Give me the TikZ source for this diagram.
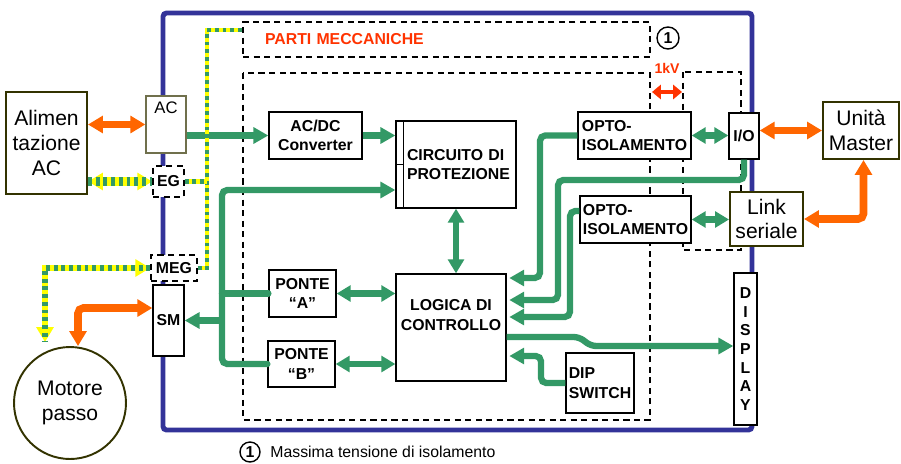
\documentclass[tikz,border=0pt]{standalone}
\usepackage{fontspec}
\setmainfont{Liberation Sans}
\definecolor{frameblue}{RGB}{51,51,153}
\definecolor{busgreen}{RGB}{51,153,102}
\definecolor{linkorange}{RGB}{255,102,0}
\definecolor{kvred}{RGB}{255,51,0}
\definecolor{extolive}{RGB}{51,51,0}
\definecolor{earthyellow}{RGB}{255,255,0}
\usetikzlibrary{arrows.meta,positioning,backgrounds,calc}
\tikzset{
  blk/.style={rectangle,draw=black,fill=white,line width=0.75pt,
              align=center,inner sep=1pt,font=\fontsize{9}{11}\selectfont\bfseries},
  ext/.style={rectangle,draw=extolive,fill=white,line width=1.1pt,
              align=center,inner sep=1pt,font=\fontsize{12}{14}\selectfont},
  dashbox/.style={rectangle,draw=black,fill=white,line width=0.8pt,
                  dash pattern=on 3.5pt off 2.5pt,align=center,inner sep=1pt,
                  font=\fontsize{9}{11}\selectfont\bfseries},
  dashline/.style={draw=black,line width=0.8pt,dash pattern=on 3.5pt off 2.5pt},
  dtips/.style={{Triangle[length=8.5pt,width=9.5pt]}-{Triangle[length=8.5pt,width=9.5pt]}},
  gline/.style={draw=busgreen,line width=3.6pt,rounded corners=3pt},
  garrow/.style={gline,-{Triangle[length=8.5pt,width=9pt]}},
  gdarrow/.style={gline,{Triangle[length=8pt,width=9pt]}-{Triangle[length=8pt,width=9pt]}},
  oarrow/.style={draw=linkorange,line width=4.3pt,rounded corners=3pt,dtips},
  earth/.style={draw=earthyellow,line width=#1,
                postaction={draw=busgreen,arrows=-,dash pattern=on 2.2pt off 2.2pt}},
  earth/.default=2.8pt,
  numcirc/.style={circle,draw=black,line width=0.8pt,minimum size=0.44cm,
                  inner sep=0pt,font=\fontsize{9}{9}\selectfont\bfseries},
}
\begin{document}
\begin{tikzpicture}[x=0.02cm,y=-0.02cm]
  \useasboundingbox (0,0) rectangle (901,463);

  % external units
  \node[ext,minimum width=1.62cm,minimum height=2.04cm] (alim) at (46.5,143) {Alimen\\tazione\\AC};
  \node[circle,draw=extolive,line width=1.1pt,minimum size=2.24cm,align=center,
        font=\fontsize{12}{14}\selectfont] (motor) at (70,403) {Motore\\passo};
  \node[ext,minimum width=1.52cm,minimum height=1.14cm] (master) at (861,130.5) {Unità\\Master};
  \node[ext,minimum width=1.46cm,minimum height=1.08cm] (link) at (766.5,219) {Link\\seriale};

  % connectors on the case
  \node[blk,draw=extolive!70,minimum width=0.8cm,minimum height=1.14cm,
        label={[anchor=north,font=\fontsize{9.5}{11}\selectfont]north:AC}] (ac) at (166,124.5) {};
  \node[dashbox,minimum width=0.62cm,minimum height=0.62cm] (eg) at (168.5,181.5) {EG};
  \node[dashbox,minimum width=0.92cm,minimum height=0.52cm] (meg) at (174,268) {MEG};
  \node[blk,minimum width=0.62cm,minimum height=1.42cm] (sm) at (168.5,320.5) {SM};

  % internal blocks
  \node[blk,minimum width=1.86cm,minimum height=0.94cm] (acdc) at (315.5,135.5) {AC/DC\\Converter};
  \node[blk,minimum width=2.4cm,minimum height=1.74cm,text width=1.96cm,align=left] (circ) at (456,164.5) {CIRCUITO DI\\PROTEZIONE};
  \draw[line width=0.75pt] ([xshift=0.16cm]circ.north west) -- ([xshift=0.16cm]circ.south west);
  \draw[line width=0.75pt] (circ.west) -- ([xshift=0.16cm]circ.west);
  \node[blk,minimum width=1.34cm,minimum height=0.94cm] (pontea) at (302.5,293.5) {PONTE\\“A”};
  \node[blk,minimum width=1.34cm,minimum height=0.92cm] (ponteb) at (301.5,364) {PONTE\\“B”};
  \node[blk,minimum width=2.2cm,minimum height=2.14cm] (logica) at (451,327.5) {LOGICA DI\\CONTROLLO\\\strut};
  \node[blk,minimum width=2.26cm,minimum height=0.94cm,align=left] (opto1) at (634.5,135.5) {OPTO-\\ISOLAMENTO};
  \node[blk,minimum width=2.22cm,minimum height=0.94cm,align=left] (opto2) at (635.5,219.5) {OPTO-\\ISOLAMENTO};
  \node[blk,minimum width=0.6cm,minimum height=0.92cm] (io) at (744,136) {I/O};
  \node[blk,minimum width=1.36cm,minimum height=1.2cm,align=left] (dip) at (600,383) {DIP\\SWITCH};
  \node[blk,minimum width=0.46cm,minimum height=3.04cm,
        font=\fontsize{9}{10.6}\selectfont\bfseries] (display) at (745.5,349) {D\\I\\S\\P\\L\\A\\Y};

  \node[dashbox,minimum width=8.14cm,minimum height=0.7cm,text width=7.26cm,
        inner xsep=0.44cm,align=left,text=kvred] (parti) at (446.5,39.5) {PARTI MECCANICHE};

  % isolation
  \node[numcirc] (n1) at (668,38) {1};
  \coordinate (kvl) at (652,92);
  \coordinate (kvr) at (682,92);
  \draw[kvred,line width=2.8pt,{Triangle[length=5pt,width=8pt]}-{Triangle[length=5pt,width=8pt]}] (kvl) -- (kvr);
  \node[font=\fontsize{8}{8}\selectfont\bfseries,text=kvred] (kv) at (667,68) {1kV};

  \node[numcirc,minimum size=0.4cm] (n2) at (250,452) {1};
  \node[font=\fontsize{9}{9}\selectfont,right=2pt of n2] (note) {Massima tensione di isolamento};

  \begin{scope}[on background layer]
    \draw[frameblue,line width=2.8pt,rounded corners=2pt] (163,13) rectangle (752,430);
    \draw[dashline] (243,73) rectangle (650,420);
    \draw[dashline] (683,72) rectangle (741,250);
  \end{scope}

  % green links
  \draw[garrow] (ac.east |- acdc.west) -- (acdc.west);
  \draw[garrow] (acdc.east) -- (acdc.east -| circ.west);
  \coordinate (bus) at (222,190);
  \draw[garrow,line cap=round] (ponteb.west) -| (bus) -- (bus -| circ.west);
  \draw[gline,line cap=round] (pontea.west) -- (pontea.west -| bus);
  \draw[garrow] (bus |- sm.east) -- (sm.east);
  \draw[gdarrow] (pontea.east) -- (pontea.east -| logica.west);
  \draw[gdarrow] (ponteb.east) -- (ponteb.east -| logica.west);
  \draw[gdarrow] (circ.south) -- (circ.south |- logica.north);
  \draw[gdarrow] (opto1.east) -- (opto1.east -| io.west);
  \draw[gdarrow] (opto2.east) -- (opto2.east -| link.west);

  \coordinate (in1) at (540,278);
  \coordinate (in2a) at (558,180);
  \coordinate (in2) at (558,300);
  \coordinate (in3) at (570,317);
  \coordinate (in4) at (541,356);
  \coordinate (out1) at (579,337);
  \coordinate (out2) at (591,346);
  \draw[garrow,shorten >=1.5pt] (opto1.west) -| (in1) -- (in1 -| logica.east);
  \draw[garrow,shorten >=1.5pt] (io.south) |- (in2a) -- (in2) -- (in2 -| logica.east);
  \draw[garrow,shorten >=1.5pt] ([yshift=0.17cm]opto2.west) -| (in3) -- (in3 -| logica.east);
  \draw[garrow,shorten >=1.5pt] (dip.west) -| (in4) -- (in4 -| logica.east);
  \draw[garrow] (out1 -| logica.east) -- (out1) -- (out2) -- (out2 -| display.west);

  % orange links
  \draw[oarrow] (alim.east |- ac.west) -- (ac.west);
  \draw[oarrow] ([yshift=0.25cm]sm.west) -| ([xshift=0.16cm]motor.north);
  \draw[oarrow] (master.west -| io.east) -- (master.west);
  \draw[oarrow] (link.east) -| ([xshift=0.05cm]master.south);

  % earth
  \coordinate (gnd) at (207,30);
  \draw[earth] (meg.east) -| (gnd) -- (gnd -| parti.west);
  \draw[earth] (eg.east) -- (eg.east -| gnd);
  \draw[earth=5pt,dtips] (alim.east |- eg.west) -- (eg.west);
  \draw[earth=3.6pt,dtips] (meg.west) -| ([xshift=-0.5cm,yshift=0.08cm]motor.north);
\end{tikzpicture}
\end{document}
